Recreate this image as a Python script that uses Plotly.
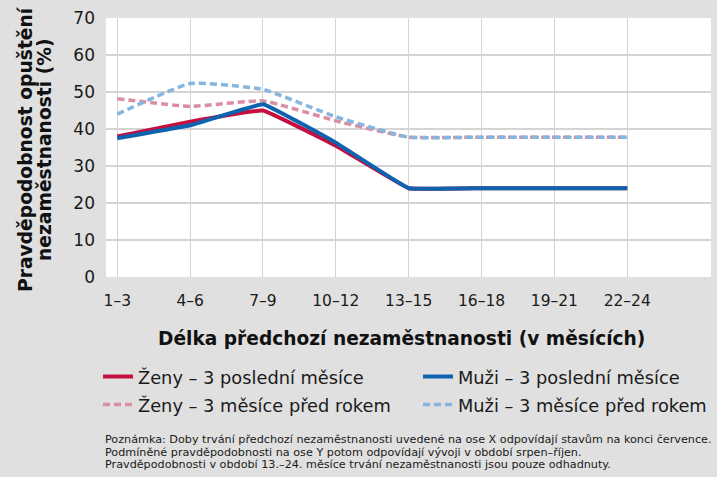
import plotly.graph_objects as go

categories = ["1–3", "4–6", "7–9", "10–12", "13–15", "16–18", "19–21", "22–24"]
zeny_posledni = [38.0, 42.0, 45.0, 35.5, 24.0, 24.0, 24.0, 24.0]
muzi_posledni = [37.5, 41.0, 46.7, 36.3, 24.0, 24.0, 24.0, 24.0]
zeny_pred_rokem = [48.2, 46.1, 47.6, 42.2, 37.8, 37.8, 37.8, 37.8]
muzi_pred_rokem = [44.0, 52.3, 50.7, 43.3, 37.8, 37.8, 37.8, 37.8]
y_ticks = [0, 10, 20, 30, 40, 50, 60, 70]

names = ["Ženy – 3 poslední měsíce", "Muži – 3 poslední měsíce",
         "Ženy – 3 měsíce před rokem", "Muži – 3 měsíce před rokem"]
x_title = "Délka předchozí nezaměstnanosti (v měsících)"
y_title = ["Pravděpodobnost opuštění", "nezaměstnanosti (%)"]
notes = [
    "Poznámka: Doby trvání předchozí nezaměstnanosti uvedené na ose X odpovídají stavům na konci července.",
    "Podmíněné pravděpodobnosti na ose Y potom odpovídají vývoji v období srpen–říjen.",
    "Pravděpodobnosti v období 13.–24. měsíce trvání nezaměstnanosti jsou pouze odhadnuty.",
]

FONT = "DejaVu Sans"
TEXT = "#1a1a1a"
L, R, T, B = 106, 6, 18, 200
W, H = 717, 477
pw = W - L - R
ph = H - T - B

def px(x):
    return (x - L) / pw

def py(y):
    return (H - B - y) / ph

fig = go.Figure()
# (values, name, color, width, dash, smoothing, legend id)
series = [
    (zeny_pred_rokem, names[2], "#d98ea2", 3.5, "7px,4px", 0.4, "legend3"),
    (muzi_pred_rokem, names[3], "#86b5dd", 3.5, "7px,4px", 0.4, "legend4"),
    (zeny_posledni, names[0], "#c4103f", 4, "solid", 0.2, "legend"),
    (muzi_posledni, names[1], "#0d63b0", 4, "solid", 0.2, "legend2"),
]
for vals, nm, col, w, dash, sm, lg in series:
    fig.add_trace(go.Scatter(
        x=categories, y=vals, name=nm, mode="lines",
        line=dict(color=col, width=w, dash=dash, shape="spline", smoothing=sm),
        legend=lg,
    ))

legend_common = dict(
    orientation="h", xanchor="left", yanchor="middle",
    bgcolor="rgba(0,0,0,0)", font=dict(size=17.8, family=FONT, color=TEXT),
)

fig.update_layout(
    width=W, height=H,
    margin=dict(l=L, r=R, t=T, b=B, autoexpand=False),
    paper_bgcolor="#e0e0e0", plot_bgcolor="#ffffff",
    font=dict(family=FONT, color=TEXT),
    showlegend=True,
    legend=dict(x=px(98), y=py(377), **legend_common),
    legend2=dict(x=px(418), y=py(377), **legend_common),
    legend3=dict(x=px(98), y=py(405), **legend_common),
    legend4=dict(x=px(418), y=py(405), **legend_common),
    xaxis=dict(
        type="category", range=[-0.155, 8.15],
        showgrid=True, gridcolor="#d4d4d4", gridwidth=1.2,
        tickfont=dict(size=15.5, family=FONT, color=TEXT),
        ticks="", showline=False, zeroline=False, ticklabelstandoff=12,
    ),
    yaxis=dict(
        range=[0, 70], tickvals=y_ticks, showgrid=True, gridcolor="#d4d4d4", gridwidth=1.5,
        tickfont=dict(size=17, family=FONT, color=TEXT),
        ticks="", showline=False, zeroline=False, ticklabelstandoff=10,
    ),
)

fig.add_annotation(
    text="<b>" + x_title + "</b>",
    xref="paper", yref="paper", x=px(401.5), y=py(338),
    xanchor="center", yanchor="middle", showarrow=False,
    font=dict(size=18.6, family=FONT, color="#111111"),
)
for xc, yc, t in [(25, 149, y_title[0]), (44, 150, y_title[1])]:
    fig.add_annotation(
        text="<b>" + t + "</b>",
        xref="paper", yref="paper", x=px(xc), y=py(yc),
        xanchor="center", yanchor="middle", showarrow=False, textangle=-90,
        font=dict(size=18.7, family=FONT, color="#111111"),
    )
for i, n in enumerate(notes):
    fig.add_annotation(
        text=n, xref="paper", yref="paper", x=px(103), y=py(440 + 12.5 * i),
        xanchor="left", yanchor="middle", showarrow=False,
        font=dict(size=11.2, family=FONT, color=TEXT),
    )

fig.write_html(
    "out.html",
    config={"displayModeBar": False},
    post_script="document.body.style.margin='0';document.body.style.background='#e0e0e0';document.documentElement.style.background='#e0e0e0';",
)
